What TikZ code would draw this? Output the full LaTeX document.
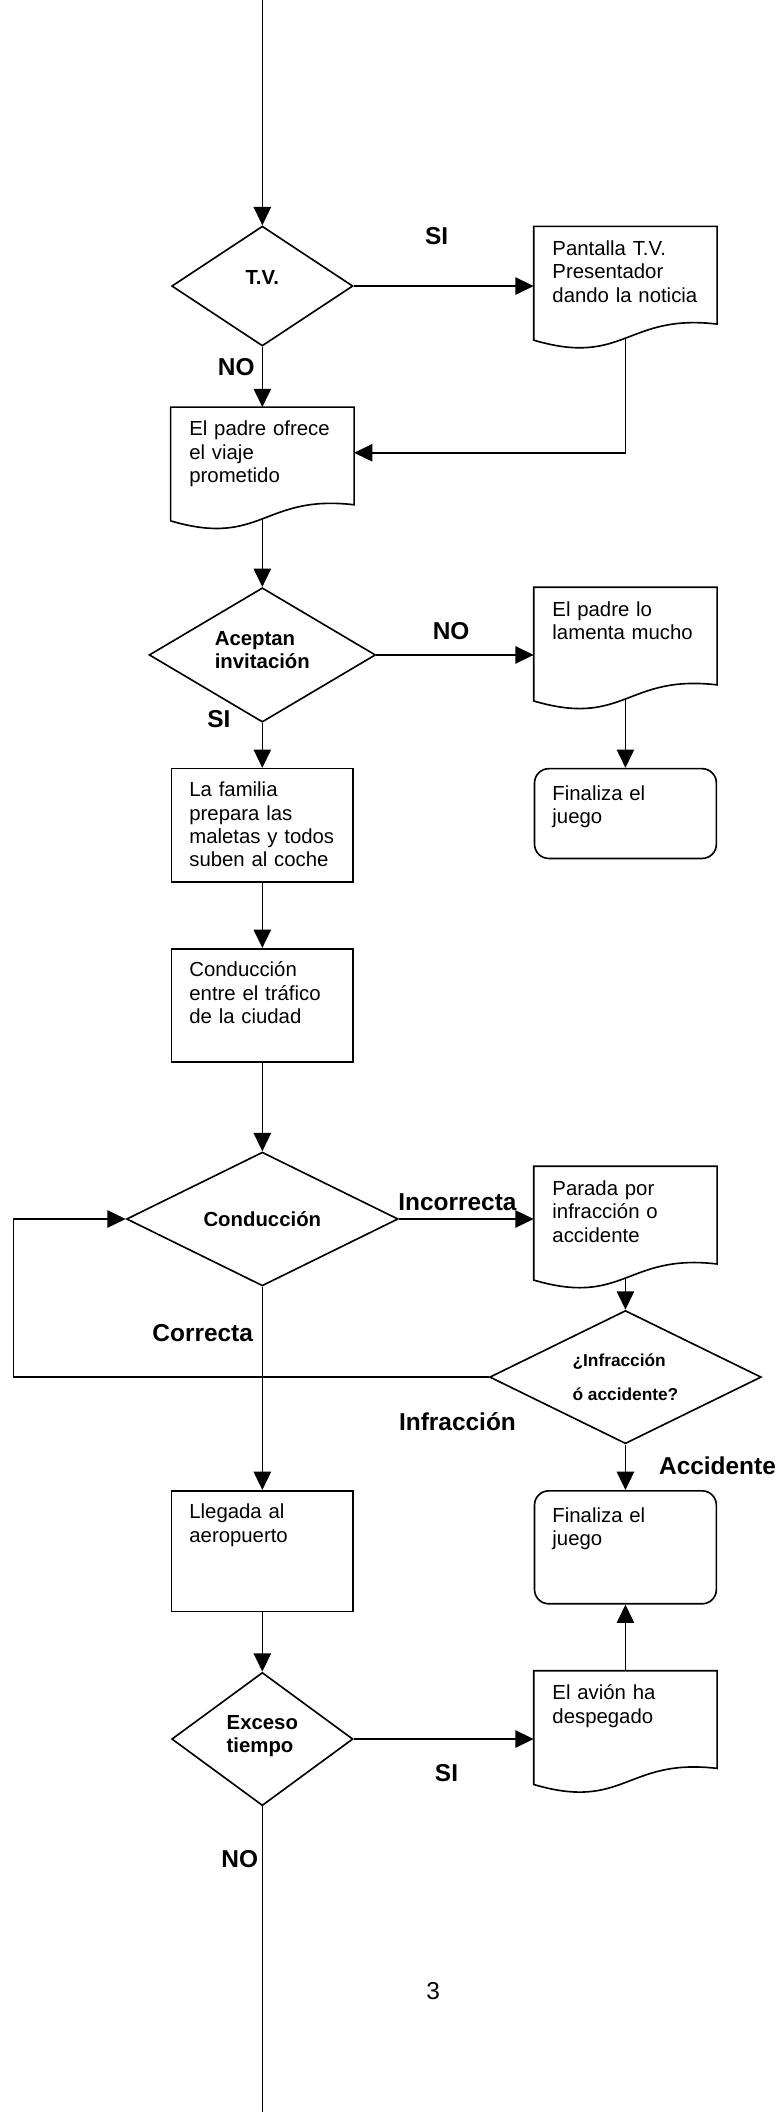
\documentclass[tikz,border=0pt]{standalone}
\usepackage{fontspec}
\setmainfont{Liberation Sans}
\usepackage{tikz}
\usetikzlibrary{shapes.geometric,arrows.meta}
\tikzstyle{caja}=[rectangle,anchor=north,text width=2.52cm,align=left,inner xsep=0.31cm,inner ysep=0pt,text height=13.8pt,font=\fontsize{10}{11.5}\selectfont]
\tikzstyle{caja_proceso}=[caja,draw]
\tikzstyle{caja_doc}=[caja]
\tikzstyle{caja_fin}=[caja,draw,rounded corners=7pt,text height=15.5pt]
\tikzstyle{decision}=[diamond,draw,aspect=2,align=left,inner sep=1pt,font=\bfseries\fontsize{10}{11.3}\selectfont]
\tikzstyle{etiqueta}=[inner sep=0pt,text height=8.6pt,text depth=0pt,font=\bfseries\fontsize{12}{14}\selectfont]
\tikzstyle{flecha}=[-{Triangle[length=9pt,width=8.5pt]}]

\begin{document}
\begin{tikzpicture}[line width=0.8pt]
\useasboundingbox (0,0) rectangle (13.42,36.47);
% columna izquierda
\node (tv) at (4.53,31.53)[decision,minimum width=3.13cm,minimum height=2.07cm,text height=7.2pt,text depth=9.2pt] {T.V.};
\node (padre) at (4.53,29.44)[caja_doc,text depth=40.3pt] {El padre ofrece\\el viaje\\prometido};
\node (acepta) at (4.53,25.16)[decision,minimum width=3.91cm,minimum height=2.32cm,text height=18.5pt,text depth=5.2pt] {Aceptan\\invitación};
\node (familia) at (4.53,23.21)[caja_proceso,text depth=41.9pt] {La familia\\prepara las\\maletas y todos\\suben al coche};
\node (trafico) at (4.53,20.10)[caja_proceso,text depth=41.9pt] {Conducción\\entre el tráfico\\de la ciudad};
\node (cond) at (4.53,15.42)[decision,minimum width=4.69cm,minimum height=2.31cm] {Conducción};
\node (llegada) at (4.53,10.74)[caja_proceso,text depth=45.5pt] {Llegada al\\aeropuerto};
\node (exceso) at (4.53,6.44)[decision,minimum width=3.13cm,minimum height=2.30cm,text height=18.5pt,text depth=5.2pt] {Exceso\\tiempo};
% columna derecha
\node (pantalla) at (10.80,32.56)[caja_doc,text depth=40.3pt] {Pantalla T.V.\\Presentador\\dando la noticia};
\node (lamenta) at (10.80,26.33)[caja_doc,text depth=40.3pt] {El padre lo\\lamenta mucho};
\node (fin1) at (10.80,23.21)[caja_fin,text depth=28.6pt] {Finaliza el\\juego};
\node (parada) at (10.80,16.33)[caja_doc,text depth=40.3pt] {Parada por\\infracción o\\accidente};
\node (infr) at (10.80,12.69)[decision,minimum width=4.69cm,minimum height=2.30cm,font=\bfseries\fontsize{8.5}{10}\selectfont] {¿Infracción\\[7pt]ó accidente?};
\node (fin2) at (10.80,10.74)[caja_fin,text depth=40pt] {Finaliza el\\juego};
\node (avion) at (10.80,7.62)[caja_doc,text depth=40.3pt] {El avión ha\\despegado};
% borde ondulado de los documentos
\foreach \d in {pantalla,padre,lamenta,parada,avion}
  \draw ([yshift=-1pt]\d.south west) -- (\d.north west) -- (\d.north east) -- ([yshift=6.9pt]\d.south east) .. controls +(-1.57,0.186) and +(1.57,-0.464) .. ([yshift=-1pt]\d.south west) -- cycle;
% etiquetas
\node (si1) at (7.54,32.39)[etiqueta] {SI};
\node (no1) at (4.08,30.13)[etiqueta] {NO};
\node (no2) at (7.79,25.57)[etiqueta] {NO};
\node (si2) at (3.78,24.05)[etiqueta] {SI};
\node (incorrecta) at (7.90,15.72)[etiqueta] {Incorrecta};
\node (correcta) at (3.50,13.46)[etiqueta] {Correcta};
\node (infraccion) at (7.90,11.92)[etiqueta] {Infracción};
\node (accidente) at (12.39,11.16)[etiqueta] {Accidente};
\node (si3) at (7.71,5.86)[etiqueta] {SI};
\node (no3) at (4.14,4.37)[etiqueta] {NO};
\node (pagina) at (7.48,2.09)[font=\fontsize{12}{14}\selectfont] {3};
% conexiones
\coordinate (inicio) at (4.53,36.47);
\coordinate (final) at (4.53,0);
\coordinate (lazo) at (0.23,14.0);
\draw[flecha] (inicio) -- (tv.north);
\draw[flecha] (tv.east) -- (tv.east -| pantalla.west);
\draw[flecha] (tv.south) -- (padre.north);
\draw[flecha] (pantalla.south) |- ([yshift=5pt]padre.east);
\draw[flecha] (padre.south) -- (acepta.north);
\draw[flecha] (acepta.east) -- (acepta.east -| lamenta.west);
\draw[flecha] (lamenta.south) -- (fin1.north);
\draw[flecha] (acepta.south) -- (familia.north);
\draw[flecha] (familia.south) -- (trafico.north);
\draw[flecha] (trafico.south) -- (cond.north);
\draw[flecha] (cond.east) -- (cond.east -| parada.west);
\draw[flecha] (parada.south) -- (infr.north);
\draw[flecha] (infr.west) -| (lazo) |- (cond.west);
\draw[flecha] (cond.south) -- (llegada.north);
\draw[flecha] (infr.south) -- (fin2.north);
\draw[flecha] (llegada.south) -- (exceso.north);
\draw[flecha] (exceso.east) -- (exceso.east -| avion.west);
\draw[flecha] (avion.north) -- (fin2.south);
\draw (exceso.south) -- (final);

\end{tikzpicture}
\end{document}
